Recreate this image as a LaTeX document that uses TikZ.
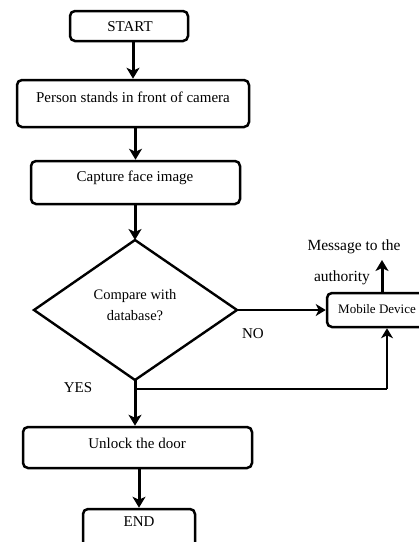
\documentclass[tikz,border=0pt]{standalone}
\usepackage{fontspec}
\setmainfont{Liberation Serif}
\usetikzlibrary{arrows.meta,calc}
\begin{document}
\begin{tikzpicture}[x=1pt,y=-1pt,
  box/.style={draw,line width=2.5pt,rounded corners=5pt,inner sep=0pt},
  txt/.style={inner sep=0pt,font=\fontsize{15}{17}\selectfont,align=center},
  flow/.style={line width=3pt,-{Stealth[length=11pt,width=13pt,inset=3pt]}},
  thinflow/.style={line width=2pt,-{Stealth[length=10pt,width=12pt,inset=3pt]}},
  bus/.style={line width=2pt}]
\useasboundingbox (0,0) rectangle (419,542);
\clip (0,0) rectangle (419,542);
% boxes
\node[box,minimum width=118pt,minimum height=30pt] (start) at (129,26) {};
\node[box,minimum width=232pt,minimum height=47pt] (person) at (133,103.5) {};
\node[box,minimum width=209pt,minimum height=43pt] (capture) at (135.5,182.5) {};
\node[box,minimum width=98pt,minimum height=34pt] (mobile) at (376,310) {};
\node[box,minimum width=229pt,minimum height=41pt] (unlock) at (137.5,447.5) {};
\node[box,minimum width=112pt,minimum height=46pt] (end) at (139,532) {};
% diamond
\coordinate (dtop) at (135,240);
\coordinate (dleft) at (34,310);
\coordinate (dright) at (237,310);
\coordinate (dbot) at (135,380);
\draw[line width=2.4pt,line join=miter] (dtop) -- (dright) -- (dbot) -- (dleft) -- cycle;
% texts
\node[txt] (tstart) at (130,27) {START};
\node[txt] (tperson) at (133,97) {Person stands in front of camera};
\node[txt] (tcapture) at (135,178) {Capture face image};
\node[txt,font=\fontsize{14.5}{21}\selectfont] (tcomp) at (135,305) {Compare with\\database?};
\node[txt,font=\fontsize{13}{15}\selectfont] (tmobile) at (377,309) {Mobile Device};
\node[txt] (tunlock) at (137,443) {Unlock the door};
\node[txt] (tend) at (139,522) {END};
\node[txt,font=\fontsize{15.5}{17}\selectfont] (tmsg1) at (354,247) {Message to the};
\node[txt,font=\fontsize{15.5}{17}\selectfont] (tmsg2) at (342,278) {authority};
\node[txt] (tno) at (253,334) {NO};
\node[txt] (tyes) at (78,388) {YES};
% connectors
\draw[flow] (start.south -| person.north) -- (person.north);
\draw[flow] (person.south -| capture.north) -- (capture.north);
\draw[flow] (capture.south -| dtop) -- (dtop);
\draw[thinflow] (dright) -- (mobile.west);
\draw[flow] (dbot) -- (dbot |- unlock.north);
\coordinate (j) at (135,389);
\coordinate (jr) at (387,389);
\draw[bus] (j) -- (jr);
\draw[thinflow] (jr) -- (mobile.south -| jr);
\coordinate (msg) at (382,260);
\draw[flow] (mobile.north -| msg) -- (msg);
\draw[flow] (unlock.south -| end.north) -- (end.north);
\end{tikzpicture}
\end{document}
